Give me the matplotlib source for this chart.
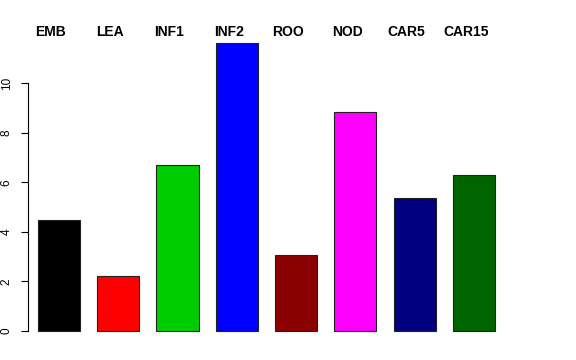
import matplotlib.pyplot as plt
import matplotlib.transforms as mtransforms
import numpy as np

labels = ['EMB', 'LEA', 'INF1', 'INF2', 'ROO', 'NOD', 'CAR5', 'CAR15']
values = [4.48, 2.22, 6.69, 11.61, 3.06, 8.83, 5.36, 6.29]
colors = ['#000000', '#FF0000', '#00CD00', '#0000FF', '#8B0000', '#FF00FF', '#000080', '#006400']
yticks = [0, 2, 4, 6, 8, 10]

plt.rcParams['font.family'] = ['Liberation Sans', 'DejaVu Sans']

fig = plt.figure(figsize=(5.76, 3.6), dpi=100)
ax = fig.add_axes([0.0486, 0.040, 0.826, 0.8725])

x = np.arange(len(labels))
ax.bar(x, values, width=0.71, color=colors, edgecolor='#222222', linewidth=0.8)

ax.set_xlim(-0.523, 7.504)
ax.set_ylim(-0.585, 12.08)

# R style axis: only the left one, spanning the ticks
for s in ['top', 'right', 'bottom']:
    ax.spines[s].set_visible(False)
ax.spines['left'].set_bounds(0, 10)
ax.spines['left'].set_linewidth(0.8)
ax.set_xticks([])
ax.set_yticks(yticks)
ax.set_yticklabels([str(t) for t in yticks], rotation=90, va='center', fontsize=8.5)
ax.tick_params(axis='y', length=5, width=0.8, pad=6)

# labels above the bars, shifted a little to the left
shift = mtransforms.offset_copy(ax.transData, fig=fig, x=-8, y=0, units='dots')
trans = mtransforms.blended_transform_factory(shift, fig.transFigure)
for xi, lab in zip(x, labels):
    ax.text(xi, 1 - 32 / 360, lab, transform=trans, ha='center', va='center',
            fontsize=10, fontweight='bold')

fig.savefig('out.png', dpi=100)
